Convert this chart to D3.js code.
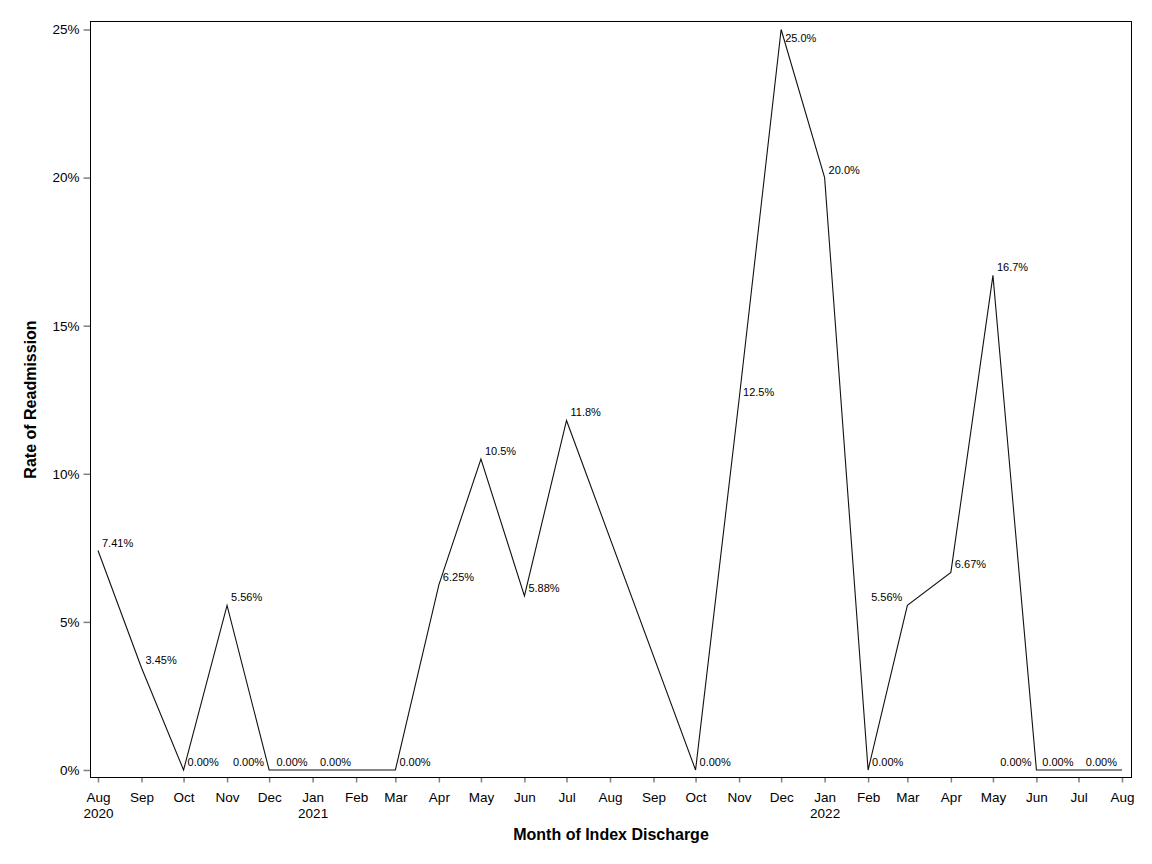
<!DOCTYPE html>
<html><head><meta charset="utf-8">
<script src="https://cdn.jsdelivr.net/npm/d3@7"></script>
<style>body{margin:0;background:#fff}svg{display:block}text{font-family:"Liberation Sans",Arial,sans-serif}</style>
</head><body><svg id="c" width="1152" height="864"></svg>
<script>
const months = ["2020-08","2020-09","2020-10","2020-11","2020-12","2021-01","2021-02","2021-03","2021-04","2021-05","2021-06","2021-07","2021-08","2021-09","2021-10","2021-11","2021-12","2022-01","2022-02","2022-03","2022-04","2022-05","2022-06","2022-07","2022-08"];
const rates = [7.41,3.45,0,5.56,0,0,0,0,6.25,10.5,5.88,11.8,null,null,0,12.5,25.0,20.0,0,5.56,6.67,16.7,0,0,0];
const yTicks = [0,5,10,15,20,25];
const xTitle = "Month of Index Discharge";
const yTitle = "Rate of Readmission";
// label placement (layout only): r = right/above, l = left/above, br = right/below
const labelSide = ["r","r","r","r","l","l","l","r","r","r","r","r",null,null,"r","r","br","r","r","l","r","r","l","l","l"];

const parse = d3.timeParse("%Y-%m");
const data = months.map((m,i)=>({date:parse(m), v:rates[i], side:labelSide[i]}));
const pts = data.filter(d=>d.v!==null);

const svg = d3.select("#c");
const L=90.5, R=1131.5, T=21.5, B=777.5;
const x = d3.scaleTime().domain([parse("2020-08"), parse("2022-08")]).range([98, 1122]);
const y = d3.scaleLinear().domain([0,25]).range([770, 29.5]);

// y axis
const yAxis = svg.append("g").attr("transform",`translate(${L},0)`)
  .call(d3.axisLeft(y).tickValues(yTicks).tickFormat(d=>d+"%").tickSize(7).tickPadding(4));
yAxis.select(".domain").remove();
yAxis.selectAll(".tick line").attr("stroke","#808080").attr("stroke-width",1.5);
yAxis.selectAll(".tick text").attr("font-size",13.5).attr("fill","#000").attr("font-family","Liberation Sans, Arial, sans-serif");

// x axis
const xAxis = svg.append("g").attr("transform",`translate(0,${B})`)
  .call(d3.axisBottom(x).tickValues(data.map(d=>d.date)).tickFormat(d3.timeFormat("%b")).tickSize(5).tickPadding(10));
xAxis.select(".domain").remove();
xAxis.selectAll(".tick line").attr("stroke","#808080").attr("stroke-width",1.5);
xAxis.selectAll(".tick text").attr("font-size",13.5).attr("fill","#000").attr("font-family","Liberation Sans, Arial, sans-serif")
  .each(function(d){
    if(d.getMonth()===0 || d.getTime()===parse("2020-08").getTime()){
      d3.select(this).append("tspan").attr("x",0).attr("dy","1.15em").text(d.getFullYear());
    }
  });

// frame
svg.append("rect").attr("x",L).attr("y",T).attr("width",R-L).attr("height",B-T)
  .attr("fill","none").attr("stroke","#000").attr("stroke-width",1);

// line
const line = d3.line().x(d=>x(d.date)).y(d=>y(d.v));
svg.append("path").datum(pts).attr("d",line).attr("fill","none").attr("stroke","#111").attr("stroke-width",1.1);

// labels
const fmt = d3.format(".3r");
svg.append("g").selectAll("text").data(pts).join("text")
  .attr("x",d=> d.side==="l" ? x(d.date)-5 : x(d.date)+4)
  .attr("y",d=> d.side==="br" ? y(d.v)+12 : y(d.v)-4)
  .attr("text-anchor",d=> d.side==="l" ? "end":"start")
  .attr("font-size",11).attr("fill","#000")
  .text(d=>fmt(d.v)+"%");

// titles
svg.append("text").attr("x",(L+R)/2).attr("y",840).attr("text-anchor","middle")
  .attr("font-size",16).attr("font-weight","bold").text(xTitle);
svg.append("text").attr("transform",`translate(36,${(T+B)/2}) rotate(-90)`).attr("text-anchor","middle")
  .attr("font-size",16).attr("font-weight","bold").text(yTitle);
</script></body></html>
